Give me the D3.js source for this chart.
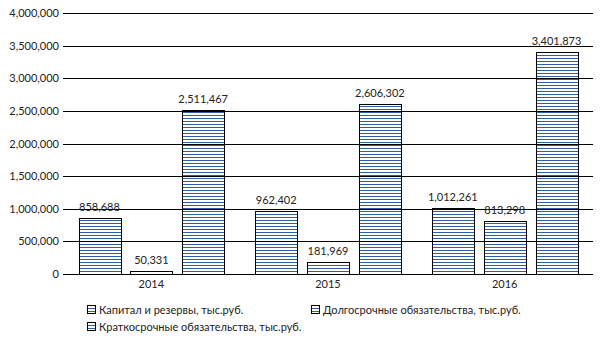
<!DOCTYPE html>
<html><head><meta charset="utf-8">
<script src="https://cdn.jsdelivr.net/npm/d3@7"></script>
<style>body{margin:0;background:#fff}svg{display:block}text{font-family:Lato,"Liberation Sans",sans-serif;fill:#222}</style>
</head><body>
<svg id="c" width="605" height="340"></svg>
<script>
const categories = ["2014","2015","2016"];
const seriesNames = ["Капитал и резервы, тыс.руб.","Долгосрочные обязательства, тыс.руб.","Краткосрочные обязательства, тыс.руб."];
const capital = [858688, 962402, 1012261];
const longTerm = [50331, 181969, 813298];
const shortTerm = [2511467, 2606302, 3401873];
const yTicks = [0,500000,1000000,1500000,2000000,2500000,3000000,3500000,4000000];

const svg = d3.select("#c");
const m = {l:63, r:593, t:13, b:274};
const x = d3.scaleBand().domain(categories).range([m.l, m.r]).paddingInner(0).paddingOuter(0);
const xs = d3.scaleBand().domain([0,1,2]).range([0, x.bandwidth()]).paddingInner(0.192).paddingOuter(0.3);
const y = d3.scaleLinear().domain([0,4000000]).range([m.b, m.t]);
const fmt = d3.format(",");

const defs = svg.append("defs");
const pat = defs.append("pattern").attr("id","hl").attr("patternUnits","userSpaceOnUse").attr("width",6).attr("height",3);
pat.append("rect").attr("width",6).attr("height",3).attr("fill","#fff");
pat.append("rect").attr("y",1).attr("width",6).attr("height",1).attr("fill","#2f5f9e");

const data = [capital, longTerm, shortTerm];
const g = svg.append("g");
categories.forEach((c,ci)=>{
  data.forEach((s,si)=>{
    const bx = x(c)+xs(si);
    g.append("rect").attr("x",Math.round(bx)+0.5).attr("y",Math.round(y(s[ci]))+0.5)
      .attr("width",Math.round(xs.bandwidth())).attr("height",Math.round(y(0)-y(s[ci])))
      .attr("fill","url(#hl)").attr("stroke","#000").attr("stroke-width",1);
  });
});

// gridlines on top
const yAxis = d3.axisLeft(y).tickValues(yTicks).tickSize(-(m.r-m.l)).tickPadding(4).tickFormat(fmt);
const ya = svg.append("g").attr("transform",`translate(${m.l},0)`).call(yAxis);
ya.select(".domain").remove();
ya.selectAll(".tick line").attr("stroke","#000").attr("shape-rendering","crispEdges");
ya.selectAll(".tick text").style("font-size","11px").attr("fill","#222");

const xAxis = d3.axisBottom(x).tickSize(0).tickPadding(6);
const xa = svg.append("g").attr("transform",`translate(0,${m.b})`).call(xAxis);
xa.select(".domain").remove();
xa.selectAll(".tick text").style("font-size","11px").attr("fill","#222");

// value labels
categories.forEach((c,ci)=>{
  data.forEach((s,si)=>{
    svg.append("text").attr("x",x(c)+xs(si)+xs.bandwidth()/2).attr("y",y(s[ci])-7)
      .attr("text-anchor","middle").style("font-size","11px").text(fmt(s[ci]));
  });
});

// legend
const leg = [{x:87,y:313},{x:311,y:313},{x:87,y:330}];
seriesNames.forEach((n,i)=>{
  const lg = svg.append("g").attr("transform",`translate(${leg[i].x},${leg[i].y})`);
  lg.append("rect").attr("x",0.5).attr("y",-7.5).attr("width",8).attr("height",8).attr("fill","url(#hl)").attr("stroke","#000");
  lg.append("text").attr("x",12).attr("y",1).style("font-size","11px").text(n);
});
</script>
</body></html>
